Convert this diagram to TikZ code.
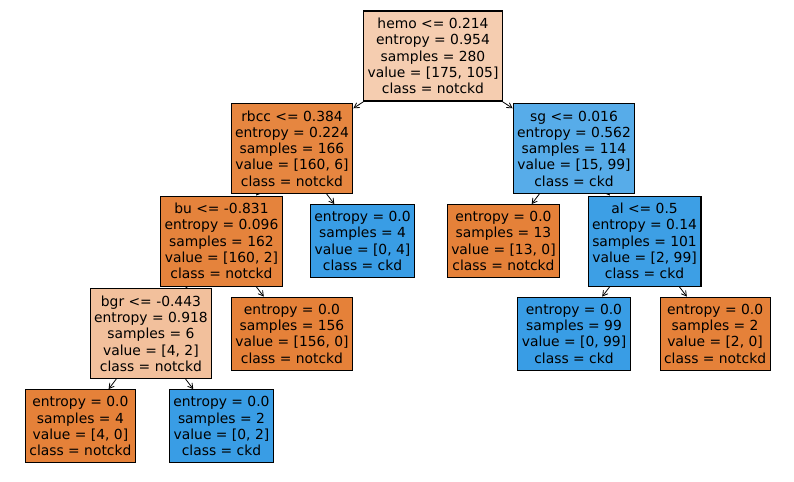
\documentclass[tikz,border=0pt]{standalone}
\usepackage{fontspec}
\setmainfont{DejaVu Sans}
\usepackage{xcolor}
\usepackage{tikz}
\usetikzlibrary{positioning,arrows,backgrounds}
\definecolor{notckd}{RGB}{229,129,57}
\definecolor{ckd}{RGB}{57,157,229}
\definecolor{notckdA}{RGB}{245,205,176}
\definecolor{notckdB}{RGB}{230,134,64}
\definecolor{notckdC}{RGB}{229,131,60}
\definecolor{notckdD}{RGB}{242,192,156}
\definecolor{ckdA}{RGB}{87,172,233}
\definecolor{ckdB}{RGB}{61,159,229}
\tikzset{
    split/.style={
        rectangle,
        draw=black,
        line width=0.8pt,
        align=center,
        inner xsep=3pt,
        inner ysep=2pt,
        minimum height=67.5pt,
        font=\fontsize{10.4}{12.2}\selectfont
    },
    leaf/.style={
        split,
        minimum height=54.75pt
    },
    arrow/.style={
        ->,
        >=angle 60,
        line width=0.6pt
    }
}

\begin{document}
\begin{tikzpicture}[node distance=69.4pt]
          \useasboundingbox (0,0) rectangle (595.5pt,-361.5pt);
          \node (split1) [split, fill=notckdA] at (324.75pt,-42pt) {hemo <= 0.214\\entropy = 0.954\\samples = 280\\value = [175, 105]\\class = notckd};
          \node (split2) [split, fill=notckdB, below of=split1, xshift=-105.75pt] {rbcc <= 0.384\\entropy = 0.224\\samples = 166\\value = [160, 6]\\class = notckd};
          \node (split3) [split, fill=ckdA, below of=split1, xshift=105.75pt] {sg <= 0.016\\entropy = 0.562\\samples = 114\\value = [15, 99]\\class = ckd};
          \node (split4) [split, fill=notckdC, below of=split2, xshift=-52.9pt] {bu <= -0.831\\entropy = 0.096\\samples = 162\\value = [160, 2]\\class = notckd};
          \node (leaf1) [leaf, fill=ckd, below of=split2, xshift=52.9pt] {entropy = 0.0\\samples = 4\\value = [0, 4]\\class = ckd};
          \node (leaf2) [leaf, fill=notckd, below of=split3, xshift=-52.9pt] {entropy = 0.0\\samples = 13\\value = [13, 0]\\class = notckd};
          \node (split5) [split, fill=ckdB, below of=split3, xshift=52.9pt] {al <= 0.5\\entropy = 0.14\\samples = 101\\value = [2, 99]\\class = ckd};
          \node (split6) [split, fill=notckdD, below of=split4, xshift=-52.9pt] {bgr <= -0.443\\entropy = 0.918\\samples = 6\\value = [4, 2]\\class = notckd};
          \node (leaf3) [leaf, fill=notckd, below of=split4, xshift=52.9pt] {entropy = 0.0\\samples = 156\\value = [156, 0]\\class = notckd};
          \node (leaf4) [leaf, fill=ckd, below of=split5, xshift=-52.9pt] {entropy = 0.0\\samples = 99\\value = [0, 99]\\class = ckd};
          \node (leaf5) [leaf, fill=notckd, below of=split5, xshift=52.9pt] {entropy = 0.0\\samples = 2\\value = [2, 0]\\class = notckd};
          \node (leaf6) [leaf, fill=notckd, below of=split6, xshift=-52.9pt] {entropy = 0.0\\samples = 4\\value = [4, 0]\\class = notckd};
          \node (leaf7) [leaf, fill=ckd, below of=split6, xshift=52.9pt] {entropy = 0.0\\samples = 2\\value = [0, 2]\\class = ckd};
          \begin{pgfonlayer}{background}
          \draw [arrow] (split1) -- (split2);
          \draw [arrow] (split1) -- (split3);
          \draw [arrow] (split2) -- (split4);
          \draw [arrow] (split2) -- (leaf1);
          \draw [arrow] (split3) -- (leaf2);
          \draw [arrow] (split3) -- (split5);
          \draw [arrow] (split4) -- (split6);
          \draw [arrow] (split4) -- (leaf3);
          \draw [arrow] (split5) -- (leaf4);
          \draw [arrow] (split5) -- (leaf5);
          \draw [arrow] (split6) -- (leaf6);
          \draw [arrow] (split6) -- (leaf7);
          \end{pgfonlayer}
        \end{tikzpicture}
\end{document}
